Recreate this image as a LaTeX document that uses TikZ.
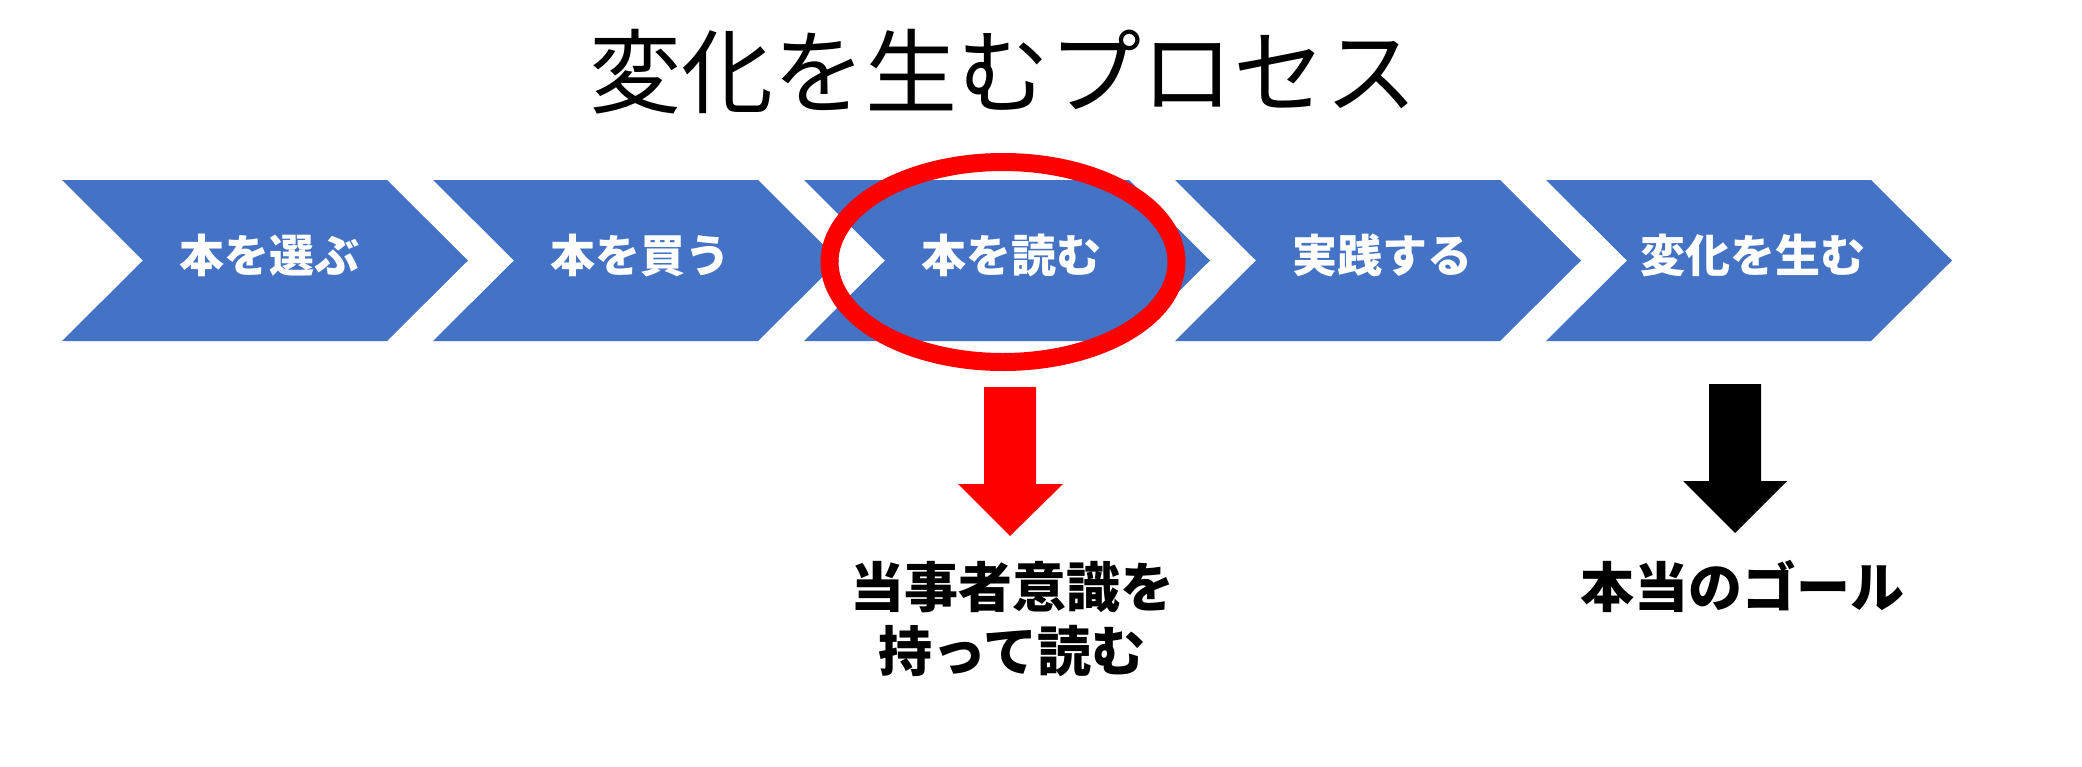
\documentclass[tikz,border=0pt]{standalone}
\usepackage{fontspec}
\newfontfamily\jp{Noto Sans CJK JP}
\definecolor{chevblue}{HTML}{4472C4}
\definecolor{markred}{HTML}{FF0000}
\tikzset{
  chevshape/.style={fill=chevblue, draw=none},
  chevtext/.style={anchor=base, inner sep=0pt, text=white, font=\jp\bfseries\fontsize{45}{54}\selectfont},
  labeltext/.style={anchor=base, inner sep=0pt, text=black, align=center, font=\jp\bfseries\fontsize{54}{64}\selectfont},
  titletext/.style={anchor=base, inner sep=0pt, text=black, font=\jp\fontsize{92}{110}\selectfont},
  ring/.style={draw=markred, line width=18pt},
}
\newcommand{\chevronat}[1]{%
  \fill[chevshape] (#1,180) -- ++(325,0) -- ++(81,80.5) -- ++(-81,80.5) -- ++(-325,0) -- ++(81,-80.5) -- cycle;}
\begin{document}
\begin{tikzpicture}[x=1pt,y=-1pt]
\useasboundingbox (0,0) rectangle (2082,766);
\fill[white] (0,0) rectangle (2082,766);
% title
\node[titletext] (title) at (1003,106) {変化を生むプロセス};
% chevrons
\chevronat{62}
\chevronat{433}
\chevronat{804}
\chevronat{1175}
\chevronat{1546}
\node[chevtext] (c1) at (269,272) {本を選ぶ};
\node[chevtext] (c2) at (640,272) {本を買う};
\node[chevtext] (c3) at (1011,272) {本を読む};
\node[chevtext] (c4) at (1382,272) {実践する};
\node[chevtext] (c5) at (1753,272) {変化を生む};
% red ring
\draw[ring] (1003,262) ellipse [x radius=173.5, y radius=100];
% red block arrow
\fill[markred] (984,387) -- (1036,387) -- (1036,484) -- (1063,484) -- (1010,536) -- (958,484) -- (984,484) -- cycle;
% black block arrow
\fill[black] (1709,384) -- (1761,384) -- (1761,481) -- (1787,481) -- (1735,533) -- (1683,481) -- (1709,481) -- cycle;
% labels
\node[labeltext] (lab1) at (1012,671) {当事者意識を\\持って読む};
\node[labeltext] (lab2) at (1742,607.5) {本当のゴール};
\end{tikzpicture}
\end{document}
